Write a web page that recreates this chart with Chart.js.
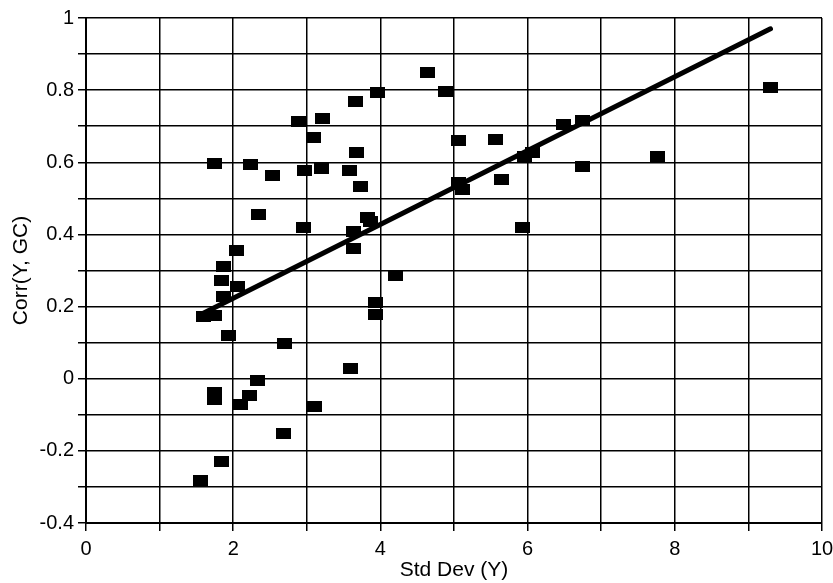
<!DOCTYPE html>
<html>
<head>
<meta charset="utf-8">
<script src="https://cdn.jsdelivr.net/npm/chart.js@4"></script>
<style>
html,body{margin:0;padding:0;background:#fff;}
#wrap{width:833px;height:583px;position:relative;}
</style>
</head>
<body>
<div id="wrap"><canvas id="c" width="833" height="583"></canvas></div>
<script>
// Data
const stdDev = [1.75, 2.23, 2.53, 2.89, 3.21, 3.09, 2.97, 3.20, 3.66, 3.96,
  3.68, 3.58, 3.73, 3.83, 3.86, 3.64, 3.63, 2.95, 2.35, 2.04,
  1.87, 1.84, 2.06, 1.87, 1.60, 1.75, 1.93, 2.70, 3.94, 3.94,
  4.21, 4.64, 4.88, 5.065, 5.06, 5.11, 5.56, 5.65, 5.96, 6.06,
  5.93, 6.49, 6.74, 6.74, 7.77, 9.30, 3.60, 2.33, 2.22, 2.10,
  1.75, 1.75, 2.69, 3.10, 1.84, 1.55];
const corrYGC = [0.598, 0.595, 0.562, 0.713, 0.721, 0.670, 0.577, 0.582, 0.769, 0.793,
  0.628, 0.578, 0.534, 0.447, 0.437, 0.409, 0.362, 0.419, 0.456, 0.356,
  0.310, 0.271, 0.257, 0.227, 0.173, 0.175, 0.120, 0.099, 0.210, 0.178,
  0.286, 0.848, 0.795, 0.661, 0.543, 0.525, 0.663, 0.553, 0.615, 0.627,
  0.420, 0.705, 0.716, 0.589, 0.617, 0.808, 0.028, -0.005, -0.046, -0.071,
  -0.037, -0.057, -0.151, -0.078, -0.230, -0.281];
const trendX = [1.56, 9.30];
const trendY = [0.178, 0.970];
const xTickLabels = ['0', '2', '4', '6', '8', '10'];
const yTickLabels = ['-0.4', '-0.2', '0', '0.2', '0.4', '0.6', '0.8', '1'];

const marker = document.createElement('canvas');
marker.width = 15; marker.height = 11;
const mctx = marker.getContext('2d');
mctx.fillStyle = '#000';
mctx.fillRect(0, 0, 15, 11);

const scatterPts = stdDev.map((x, i) => ({x: x, y: corrYGC[i]}));
const trendPts = trendX.map((x, i) => ({x: x, y: trendY[i]}));

const FONT = 'Liberation Sans, Arial, sans-serif';

new Chart(document.getElementById('c'), {
  type: 'scatter',
  data: {
    datasets: [
      {
        data: scatterPts,
        pointStyle: marker,
        pointRadius: 7,
        pointHoverRadius: 7,
        order: 2
      },
      {
        type: 'line',
        data: trendPts,
        borderColor: '#000',
        borderWidth: 5,
        borderCapStyle: 'round',
        pointRadius: 0,
        fill: false,
        showLine: true,
        order: 1
      }
    ]
  },
  options: {
    responsive: false,
    animation: false,
    devicePixelRatio: 1,
    layout: {padding: {left: 0, right: 11, top: 18, bottom: 0}},
    plugins: {legend: {display: false}, tooltip: {enabled: false}},
    scales: {
      x: {
        type: 'linear',
        min: 0, max: 10,
        afterFit: (s) => { s.height = 60; s.paddingRight = 0; s.paddingLeft = 0; },
        ticks: {
          stepSize: 1,
          autoSkip: false,
          maxRotation: 0,
          color: '#000',
          font: {family: FONT, size: 20},
          padding: 6,
          callback: (v) => {
            const idx = xTickLabels.indexOf(String(Math.round(v)));
            return (Math.round(v) % 2 === 0 && idx >= 0) ? xTickLabels[idx] : '';
          }
        },
        grid: {color: '#000', lineWidth: 1.5, tickLength: 8, drawTicks: true},
        border: {display: true, color: '#000', width: 2},
        title: {display: true, text: 'Std Dev (Y)', color: '#000',
          font: {family: FONT, size: 21}, padding: {top: 0, bottom: 0}}
      },
      y: {
        type: 'linear',
        min: -0.4, max: 1,
        afterFit: (s) => { s.width = 86; s.paddingTop = 0; s.paddingBottom = 0; },
        ticks: {
          stepSize: 0.1,
          autoSkip: false,
          color: '#000',
          font: {family: FONT, size: 20},
          padding: 4,
          callback: (v) => {
            const k = Math.round(v * 10);
            if (k % 2 !== 0) return '';
            const s = String(k / 10);
            return yTickLabels.includes(s) ? s : '';
          }
        },
        grid: {color: '#000', lineWidth: 1.5, tickLength: 8, drawTicks: true},
        border: {display: true, color: '#000', width: 2},
        title: {display: true, text: 'Corr(Y, GC)', color: '#000',
          font: {family: FONT, size: 21}, padding: {top: 9, bottom: 0}}
      }
    }
  }
});
</script>
</body>
</html>
